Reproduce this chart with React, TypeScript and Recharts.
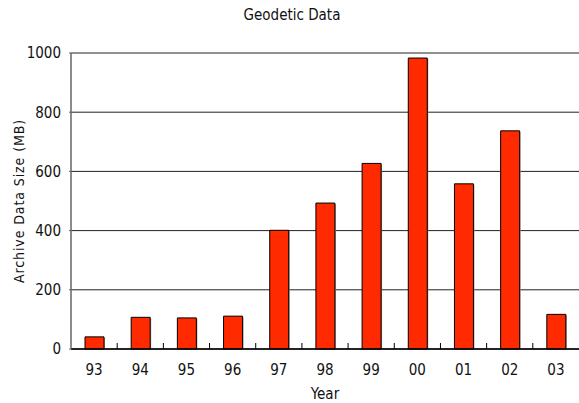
import React from "react";
import {
  BarChart,
  Bar,
  XAxis,
  YAxis,
  CartesianGrid,
  Label,
  Rectangle,
} from "recharts";

const years = ["93", "94", "95", "96", "97", "98", "99", "00", "01", "02", "03"];
const archiveSizes = [41, 107, 105, 111, 401, 493, 627, 983, 558, 737, 117];
const sizeTicks = [0, 200, 400, 600, 800, 1000];

const data = years.map((year, i) => ({ year, size: archiveSizes[i] }));

const W = 579;
const H = 403;
const LEFT = 71;
const RIGHT = 0;
const FONT = "'Liberation Sans Narrow', 'DejaVu Sans Condensed', 'Liberation Sans', sans-serif";
const step = (W - LEFT - RIGHT) / years.length;

// label under each category plus a short upward tick on the boundary to its left
const YearTick = (props: any) => {
  const { x, y, payload, index } = props;
  return (
    <g>
      {index > 0 && (
        <line x1={x - step / 2} x2={x - step / 2} y1={y - 8} y2={y - 14} stroke="#000" strokeWidth={1} />
      )}
      <text x={x} y={y + 18} textAnchor="middle" fontSize={15} fill="#111" fontFamily={FONT}>
        {payload.value}
      </text>
    </g>
  );
};

// bar with a thin grey shadow on its right edge
const ShadowBar = (props: any) => {
  const { x, y, width, height } = props;
  return (
    <g>
      <rect x={x + 1} y={y + 1} width={width} height={height - 1} fill="#9a9a9a" />
      <Rectangle x={x} y={y} width={width} height={height} fill="#ff2a00" stroke="#000" strokeWidth={1} />
    </g>
  );
};

export default function App() {
  return (
    <div style={{ position: "absolute", left: 0, top: 0, width: W, height: H, background: "#fff" }}>
      <div
        style={{
          position: "absolute",
          top: 6,
          left: 0,
          width: 584,
          textAlign: "center",
          fontFamily: FONT,
          fontSize: 15,
          color: "#111",
        }}
      >
        Geodetic Data
      </div>
      <BarChart
        width={W}
        height={H}
        data={data}
        margin={{ top: 53, right: RIGHT, left: 0, bottom: 0 }}
        barSize={19}
      >
        <CartesianGrid horizontal vertical={false} stroke="#222" strokeWidth={1} />
        <XAxis
          dataKey="year"
          axisLine={{ stroke: "#000", strokeWidth: 1.5 }}
          tickLine={false}
          tick={<YearTick />}
          interval={0}
          height={54}
        >
          <Label value="Year" position="insideBottom" offset={4} fontSize={15} fill="#111" fontFamily={FONT} />
        </XAxis>
        <YAxis
          domain={[0, 1000]}
          ticks={sizeTicks}
          width={LEFT}
          axisLine={{ stroke: "#666", strokeWidth: 1.5 }}
          tickLine={{ stroke: "#666" }}
          tickSize={2}
          tickMargin={8}
          tick={{ fontSize: 15, fill: "#111", fontFamily: FONT }}
        >
          <Label
            value="Archive Data Size (MB)"
            angle={-90}
            position="insideLeft"
            offset={19}
            style={{ textAnchor: "middle", letterSpacing: 0.9 }}
            fontSize={14}
            fill="#111"
            fontFamily={FONT}
          />
        </YAxis>
        <Bar dataKey="size" shape={<ShadowBar />} isAnimationActive={false} />
      </BarChart>
    </div>
  );
}
